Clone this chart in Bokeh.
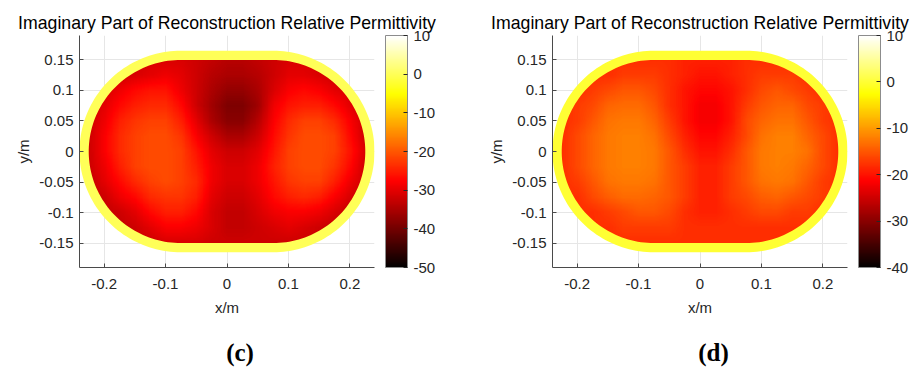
import numpy as np
from bokeh.plotting import figure
from bokeh.layouts import row, column
from bokeh.models import (Range1d, FixedTicker, LinearColorMapper, ColorBar,
                          ColumnDataSource)
from bokeh.core.properties import value
from bokeh.embed import file_html
from bokeh.resources import INLINE

# ---------------- data ----------------
title_text = "Imaginary Part of Reconstruction Relative Permittivity"
x_ticks = [-0.2, -0.1, 0.0, 0.1, 0.2]
x_tick_labels = ["-0.2", "-0.1", "0", "0.1", "0.2"]
y_ticks = [-0.15, -0.1, -0.05, 0.0, 0.05, 0.1, 0.15]
y_tick_labels = ["-0.15", "-0.1", "-0.05", "0", "0.05", "0.1", "0.15"]

# sample grid of the reconstructed field (m)
grid_x = [-0.225, -0.2, -0.175, -0.15, -0.125, -0.1, -0.075, -0.05, -0.025, 0.0,
          0.025, 0.05, 0.075, 0.1, 0.125, 0.15, 0.175, 0.2, 0.225]
grid_y = [0.15, 0.125, 0.1, 0.075, 0.05, 0.025, 0.0, -0.025, -0.05, -0.075,
          -0.1, -0.125, -0.15]

# panel (c): rows from y=0.15 (top) to y=-0.15 (bottom)
field_c = [
    [-32, -32, -32, -32, -31, -31, -31, -32, -33, -34, -34, -33, -32, -31, -31, -31, -32, -32, -32],
    [-32, -32, -32, -31, -30, -29, -30, -32, -34, -35, -35, -34, -32, -30, -30, -31, -32, -32, -32],
    [-32, -31, -29, -27, -26, -26, -29, -32, -35, -37, -37, -35, -31, -28, -27, -28, -30, -31, -32],
    [-32, -30, -27, -25, -24, -24, -27, -32, -36, -39, -39, -36, -29, -26, -25, -25, -27, -30, -32],
    [-32, -29, -25, -23, -22, -22, -25, -30, -35, -38, -38, -34, -28, -24, -22, -22, -24, -28, -32],
    [-32, -28, -24, -22, -21, -21, -23, -28, -32, -35, -35, -32, -27, -23, -21, -21, -22, -27, -32],
    [-32, -28, -24, -22, -21, -21, -22, -26, -30, -32, -32, -30, -26, -22, -21, -21, -22, -26, -31],
    [-32, -29, -25, -22, -21, -21, -22, -25, -29, -31, -31, -29, -25, -22, -21, -21, -23, -27, -32],
    [-33, -30, -27, -24, -22, -21, -22, -24, -29, -31, -31, -29, -26, -23, -22, -22, -25, -29, -32],
    [-33, -32, -29, -27, -24, -23, -23, -25, -30, -32, -32, -30, -27, -25, -24, -25, -28, -31, -33],
    [-33, -33, -32, -30, -27, -25, -25, -27, -31, -33, -33, -31, -29, -28, -28, -29, -31, -33, -33],
    [-33, -33, -33, -32, -30, -28, -28, -29, -31, -33, -33, -32, -31, -30, -31, -32, -33, -33, -33],
    [-32, -32, -32, -32, -32, -31, -31, -31, -32, -32, -32, -32, -32, -32, -32, -32, -32, -32, -32],
]

# panel (d)
field_d = [
    [-18, -18, -18, -18, -18, -18, -18, -18, -19, -19, -19, -19, -18, -18, -18, -18, -18, -18, -18],
    [-18, -18, -18, -18, -17, -17, -17, -18, -19, -20, -20, -19, -18, -17, -17, -17, -18, -18, -18],
    [-18, -18, -17, -16, -15, -15, -16, -18, -20, -21, -21, -20, -18, -16, -15, -16, -17, -18, -18],
    [-18, -17, -16, -14, -13.5, -13.5, -15, -18, -20, -22, -22, -20, -17, -15, -14, -14, -16, -17, -18],
    [-18, -17, -15, -13, -12.5, -12.5, -14, -17, -20, -22, -22, -20, -16, -14, -13, -13, -15, -17, -18],
    [-18, -16, -14, -12.5, -12, -12, -13, -16, -19, -21, -21, -19, -16, -13, -12, -12, -14, -16, -18],
    [-18, -16, -14, -12.5, -12, -12, -12.5, -15, -18, -20, -20, -18, -15, -12.5, -12, -12, -13, -16, -18],
    [-18, -16, -14, -12.5, -12, -12, -12.5, -15, -17, -19, -19, -17, -15, -12.5, -12, -12.5, -14, -16, -18],
    [-18, -17, -15, -13, -12.5, -12.5, -13, -15, -17, -19, -19, -17, -15, -13, -12.5, -13, -15, -17, -18],
    [-18, -18, -16, -14.5, -13.5, -13.5, -14, -15, -17, -19, -19, -17, -16, -14.5, -14, -15, -16, -17, -18],
    [-18, -18, -18, -17, -16, -15, -15, -16, -18, -19, -19, -18, -17, -16, -16, -17, -17, -18, -18],
    [-18, -18, -18, -18, -17, -17, -17, -17, -18, -18, -18, -18, -18, -18, -18, -18, -18, -18, -18],
    [-18, -18, -18, -18, -18, -18, -18, -18, -18, -18, -18, -18, -18, -18, -18, -18, -18, -18, -18],
]

ring_value = 0.0          # value of the outer (boundary) layer
cbar_c = dict(low=-50, high=10, ticks=[-50, -40, -30, -20, -10, 0, 10])
cbar_d = dict(low=-40, high=10, ticks=[-40, -30, -20, -10, 0, 10])
panel_labels = ["(c)", "(d)"]

# domain geometry (stadium): half length of straight part, inner / outer radius
half_straight = 0.075
r_inner = 0.15
r_outer = 0.165

# ---------------- helpers ----------------
def hot_palette(n=256):
    n1 = int(round(3 / 8 * n)); n2 = n1; n3 = n - n1 - n2
    r = np.concatenate([np.arange(1, n1 + 1) / n1, np.ones(n - n1)])
    g = np.concatenate([np.zeros(n1), np.arange(1, n2 + 1) / n2, np.ones(n3)])
    b = np.concatenate([np.zeros(n1 + n2), np.arange(1, n3 + 1) / n3])
    return ["#%02x%02x%02x" % (int(round(rr * 255)), int(round(gg * 255)), int(round(bb * 255)))
            for rr, gg, bb in zip(r, g, b)]

HOT = hot_palette()


def stadium(R, n=90):
    t1 = np.linspace(np.pi / 2, -np.pi / 2, n)
    t2 = np.linspace(-np.pi / 2, -3 * np.pi / 2, n)
    xs = np.concatenate([half_straight + R * np.cos(t1), -half_straight + R * np.cos(t2)])
    ys = np.concatenate([R * np.sin(t1), R * np.sin(t2)])
    return list(xs), list(ys)


def render_field(field):
    vals = np.array(field, dtype=float)[::-1]          # bottom -> top
    gy = np.array(grid_y)[::-1]
    gx = np.array(grid_x)
    x0, x1, y0, y1 = -0.23, 0.23, -0.156, 0.156
    fx = np.linspace(x0, x1, 330)
    fy = np.linspace(y0, y1, 224)
    tmp = np.array([np.interp(fx, gx, rowv) for rowv in vals])
    img = np.array([np.interp(fy, gy, tmp[:, j]) for j in range(len(fx))]).T
    X, Y = np.meshgrid(fx, fy)
    dx = np.maximum(np.abs(X) - half_straight, 0)
    inside = dx ** 2 + Y ** 2 <= (r_inner + 0.004) ** 2
    img[~inside] = np.nan
    return img, x0, y0, x1 - x0, y1 - y0


TXT = "#262626"
TOP_H = 320           # height of the chart row
LAB_H = 47            # height of the (c)/(d) row


def make_panel(field, cb, min_left, min_right):
    p = figure(frame_width=295, frame_height=232,
               x_range=Range1d(-0.24, 0.24), y_range=Range1d(-0.19, 0.19),
               output_backend="svg", toolbar_location=None,
               min_border_left=min_left, min_border_right=min_right,
               min_border_top=35, min_border_bottom=TOP_H - 35 - 232, title=title_text)
    p.title.align = "center"
    p.title.text_font = "Liberation Sans"
    p.title.text_font_size = "17.7px"
    p.title.text_font_style = "normal"
    p.title.text_color = "#000000"
    p.title.standoff = 6
    p.outline_line_color = None
    p.background_fill_color = "white"

    mapper = LinearColorMapper(palette=HOT, low=cb["low"], high=cb["high"],
                               nan_color=(0, 0, 0, 0))
    img, x0, y0, dw, dh = render_field(field)
    p.image(image=[img], x=x0, y=y0, dw=dw, dh=dh, color_mapper=mapper)

    ox, oy = stadium(r_outer)
    ix, iy = stadium(r_inner)
    src = ColumnDataSource(dict(xs=[[[ox, ix[::-1]]]], ys=[[[oy, iy[::-1]]]], v=[ring_value]))
    p.multi_polygons(xs="xs", ys="ys", source=src,
                     fill_color={"field": "v", "transform": mapper}, line_color=None)

    p.xaxis.ticker = FixedTicker(ticks=x_ticks)
    p.xaxis.major_label_overrides = dict(zip(x_ticks, x_tick_labels))
    p.yaxis.ticker = FixedTicker(ticks=y_ticks)
    p.yaxis.major_label_overrides = dict(zip(y_ticks, y_tick_labels))
    p.xaxis.axis_label = "x/m"
    p.yaxis.axis_label = "y/m"
    for ax in (p.xaxis, p.yaxis):
        ax.axis_label_text_font = "Liberation Sans"
        ax.axis_label_text_font_size = "15px"
        ax.axis_label_text_font_style = "normal"
        ax.axis_label_text_color = TXT
        ax.major_label_text_font = "Liberation Sans"
        ax.major_label_text_font_size = "15px"
        ax.major_label_text_color = TXT
        ax.axis_line_color = "#4a4a4a"
        ax.major_tick_line_color = "#4a4a4a"
        ax.major_tick_in = 4
        ax.major_tick_out = 0
        ax.minor_tick_line_color = None
    p.xaxis.major_label_standoff = 11
    p.xaxis.axis_label_standoff = 7
    p.yaxis.major_label_standoff = 6
    p.yaxis.axis_label_standoff = 4
    p.grid.grid_line_color = "#e6e6e6"
    p.grid.grid_line_width = 1

    cbar = ColorBar(color_mapper=mapper, ticker=FixedTicker(ticks=cb["ticks"]),
                    major_label_overrides={t: str(t) for t in cb["ticks"]},
                    width=22, height=232, padding=0, margin=0, location=(11, 0),
                    label_standoff=6, major_label_text_font="Liberation Sans",
                    major_label_text_font_size="15px", major_label_text_color=TXT,
                    major_tick_line_color="#262626", major_tick_in=4, major_tick_out=0,
                    minor_tick_line_color=None,
                    bar_line_color="#8c8c8c", border_line_color=None,
                    background_fill_alpha=0)
    p.add_layout(cbar, "right")
    return p


def make_label(text, width, cx):
    q = figure(width=width, height=LAB_H, x_range=Range1d(0, width), y_range=Range1d(0, LAB_H),
               x_axis_type=None, y_axis_type=None, min_border=0,
               output_backend="svg", toolbar_location=None)
    q.grid.visible = False
    q.outline_line_color = None
    q.text(x=[cx], y=[LAB_H - 352 + TOP_H], text=[text], text_align="center",
           text_baseline="middle", text_font=value("Liberation Serif"),
           text_font_style="bold", text_font_size="25px", text_color="#000000")
    return q


p1 = make_panel(field_c, cbar_c, 79, 86)     # 79 + 295 + 86 = 460
p2 = make_panel(field_d, cbar_d, 92, 67)     # 92 + 296ish + 67 = 455
l1 = make_label(panel_labels[0], 460, 239.5)
l2 = make_label(panel_labels[1], 455, 713 - 460)
layout = column(row(p1, p2), row(l1, l2))

open("out.html", "w").write(file_html(layout, INLINE))
